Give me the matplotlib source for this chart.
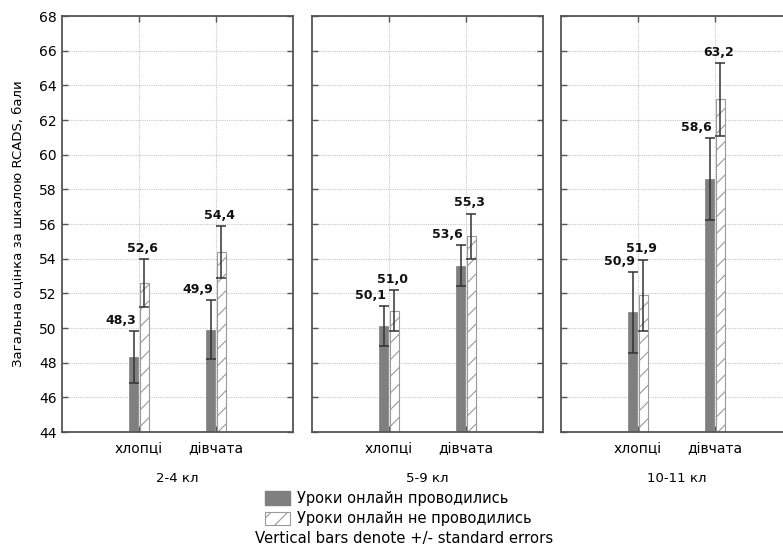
import matplotlib
matplotlib.use("Agg")
import matplotlib.pyplot as plt
from matplotlib.patches import Rectangle
import numpy as np

plt.rcParams['font.family'] = ['DejaVu Sans']
plt.rcParams['hatch.linewidth'] = 0.8

groups = ["2-4 кл", "5-9 кл", "10-11 кл"]
categories = ["хлопці", "дівчата"]
# online lessons held
online_mean = [[48.3, 49.9], [50.1, 53.6], [50.9, 58.6]]
online_se = [[1.5, 1.7], [1.15, 1.18], [2.35, 2.35]]
# online lessons not held
offline_mean = [[52.6, 54.4], [51.0, 55.3], [51.9, 63.2]]
offline_se = [[1.4, 1.5], [1.2, 1.3], [2.05, 2.1]]
yticks = list(range(44, 69, 2))
series_labels = ["Уроки онлайн проводились", "Уроки онлайн не проводились"]
note = "Vertical bars denote +/- standard errors"
ylabel = "Загальна оцінка за шкалою RCADS, бали"

W, H = 783, 547
fig = plt.figure(figsize=(W / 100, H / 100), dpi=100)

lefts = [62, 312, 561]
pw = 231
top, bottom = 16, 432
spine_col = "#555555"
hcol = "#9a9a9a"
plt.rcParams['hatch.color'] = hcol
bw = 0.12
off = 0.07
x = np.arange(1, len(categories) + 1)

for gi, g in enumerate(groups):
    ax = fig.add_axes([lefts[gi] / W, 1 - bottom / H, pw / W, (bottom - top) / H])
    ax.set_xlim(0, 3)
    ax.set_ylim(44, 68)
    ax.set_yticks(yticks)
    ax.set_xticks(x)
    ax.set_xticklabels(categories, fontsize=9.5)
    ax.grid(True, color="#c8c8c8", linestyle=(0, (1, 1)), linewidth=0.8)
    ax.set_axisbelow(True)
    for s in ax.spines.values():
        s.set_color(spine_col)
        s.set_linewidth(1.3)
    ax.tick_params(direction="in", length=4, width=1, color=spine_col,
                   top=True, right=True, labelsize=10, pad=7)
    if gi > 0:
        ax.tick_params(labelleft=False)
    else:
        ax.set_ylabel(ylabel, fontsize=9.5)
        ax.yaxis.set_label_coords(-0.165, 0.5)
        ax.tick_params(axis="y", pad=4)

    om = online_mean[gi]; ose = online_se[gi]
    fm = offline_mean[gi]; fse = offline_se[gi]
    ax.bar(x - off, om, width=bw, bottom=0, color="#7f7f7f", edgecolor="#7f7f7f",
           linewidth=0.5, zorder=2)
    ax.bar(x + off, fm, width=bw, bottom=0, color="white", edgecolor=hcol,
           hatch="//", linewidth=0.8, zorder=2)
    ax.errorbar(x - off, om, yerr=ose, fmt="none", ecolor="#333333",
                elinewidth=1.1, capsize=3.5, capthick=1.1, zorder=3)
    ax.errorbar(x + off, fm, yerr=fse, fmt="none", ecolor="#333333",
                elinewidth=1.1, capsize=3.5, capthick=1.1, zorder=3)
    for i in range(len(categories)):
        ax.annotate(f"{om[i]:.1f}".replace(".", ","), (x[i] - off + 0.03, om[i] + ose[i]),
                    xytext=(0, 3), textcoords="offset points", ha="right", va="bottom",
                    fontsize=9, fontweight="bold", color="#111111")
        ax.annotate(f"{fm[i]:.1f}".replace(".", ","), (x[i] + off - 0.02, fm[i] + fse[i]),
                    xytext=(0, 3), textcoords="offset points", ha="center", va="bottom",
                    fontsize=9, fontweight="bold", color="#111111")
    fig.text((lefts[gi] + pw / 2) / W, 1 - 478 / H, g, ha="center", va="center",
             fontsize=9.5)

# legend
r1 = Rectangle((265 / W, 1 - 505 / H), 25 / W, 14 / H, transform=fig.transFigure,
               facecolor="#7f7f7f", edgecolor="#7f7f7f")
r2 = Rectangle((265 / W, 1 - 525 / H), 25 / W, 13 / H, transform=fig.transFigure,
               facecolor="white", edgecolor=hcol, hatch="//", linewidth=0.8)
fig.add_artist(r1)
fig.add_artist(r2)
fig.text(297 / W, 1 - 498 / H, series_labels[0], ha="left", va="center", fontsize=10.5)
fig.text(297 / W, 1 - 518 / H, series_labels[1], ha="left", va="center", fontsize=10.5)
fig.text(404 / W, 1 - 538 / H, note, ha="center", va="center", fontsize=10.7)

fig.savefig("out.png", dpi=100)
